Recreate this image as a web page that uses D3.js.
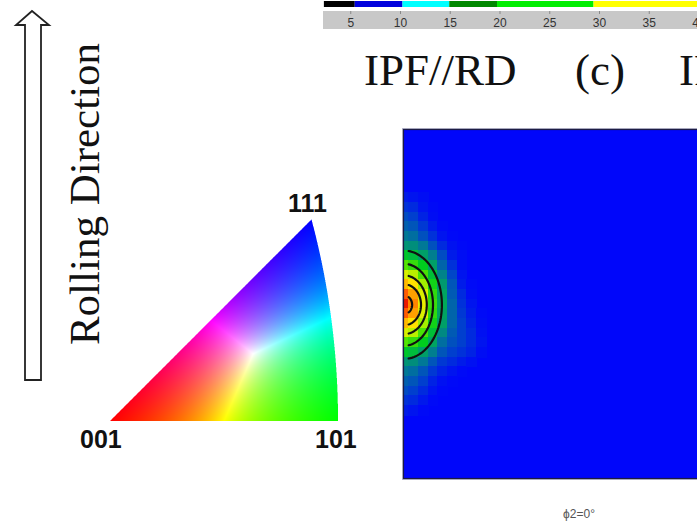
<!DOCTYPE html>
<html><head><meta charset="utf-8">
<script src="https://cdn.jsdelivr.net/npm/d3@7"></script>
<style>body{margin:0;background:#fff}svg{display:block}</style>
</head><body><svg id="c" width="697" height="531"></svg>
<script>
// ---------- data ----------
const colorbarTicks = [5, 10, 15, 20, 25, 30, 35, 40];
const colorbarBins = [2.3, 5.4, 10.2, 14.9, 19.7, 29.4, 45];
const colorbarColors = ["#000000", "#0000dd", "#00ffff", "#008800", "#00ee00", "#ffff00"];

const titles = ["IPF//RD", "(c)", "IPF//RD"];
const sideLabel = "Rolling Direction";
const ipfLabels = ["001", "101", "111"];
const sectionLabel = "\u03d52=0\u00b0";

// ODF phi2=0 section, grid 2.5 deg (phi1 across, PHI down); cells outside = base
const odfPhi1 = [0, 2.5, 5, 7.5, 10, 12.5, 15, 17.5, 20];
const odfPHI = [17.5, 20, 22.5, 25, 27.5, 30, 32.5, 35, 37.5, 40, 42.5, 45, 47.5, 50, 52.5, 55, 57.5, 60, 62.5, 65, 67.5, 70, 72.5];
const odfValues = [
  [0.3, 0.25, 0.2, 0.15, 0.15, 0.15, 0.15, 0.15, 0.15],
  [0.45, 0.4, 0.25, 0.18, 0.15, 0.15, 0.15, 0.15, 0.15],
  [0.65, 0.55, 0.35, 0.2, 0.15, 0.15, 0.15, 0.15, 0.15],
  [0.85, 0.75, 0.5, 0.3, 0.18, 0.15, 0.15, 0.15, 0.15],
  [1.1, 1.0, 0.7, 0.45, 0.25, 0.17, 0.15, 0.15, 0.15],
  [1.6, 1.5, 1.1, 0.7, 0.4, 0.23, 0.17, 0.15, 0.15],
  [2.8, 2.5, 1.8, 1.2, 0.65, 0.3, 0.2, 0.15, 0.15],
  [4.4, 3.9, 3.0, 1.8, 0.9, 0.45, 0.2, 0.15, 0.15],
  [6.4, 5.8, 4.2, 2.6, 1.3, 0.6, 0.25, 0.15, 0.15],
  [8.5, 7.7, 5.5, 3.3, 1.7, 0.75, 0.3, 0.18, 0.15],
  [10.3, 9.0, 6.5, 3.8, 1.9, 0.8, 0.4, 0.2, 0.15],
  [12.5, 9.5, 6.9, 4.0, 2.0, 0.9, 0.45, 0.25, 0.15],
  [10.3, 9.0, 6.5, 3.8, 1.9, 0.9, 0.5, 0.3, 0.18],
  [8.5, 7.7, 5.5, 3.3, 1.8, 0.9, 0.55, 0.35, 0.2],
  [6.4, 5.8, 4.2, 2.6, 1.4, 0.8, 0.55, 0.4, 0.22],
  [4.4, 3.9, 3.0, 1.9, 1.0, 0.7, 0.55, 0.4, 0.25],
  [2.8, 2.5, 1.8, 1.2, 0.75, 0.55, 0.45, 0.35, 0.2],
  [1.6, 1.5, 1.1, 0.75, 0.5, 0.4, 0.3, 0.22, 0.15],
  [1.1, 1.0, 0.75, 0.5, 0.35, 0.25, 0.18, 0.15, 0.15],
  [0.85, 0.75, 0.55, 0.35, 0.22, 0.17, 0.15, 0.15, 0.15],
  [0.65, 0.55, 0.4, 0.25, 0.17, 0.15, 0.15, 0.15, 0.15],
  [0.45, 0.4, 0.28, 0.18, 0.15, 0.15, 0.15, 0.15, 0.15],
  [0.3, 0.25, 0.18, 0.15, 0.15, 0.15, 0.15, 0.15, 0.15]
];
const odfBase = 0.15;
const odfColorStops = [0.15, 0.6, 1.1, 2, 3, 4.5, 6, 7.5, 9, 10.5, 12];
const odfColors = ["rgb(0,6,250)", "rgb(0,70,200)", "rgb(0,120,150)", "rgb(0,170,90)", "rgb(0,205,30)",
  "rgb(90,230,0)", "rgb(200,240,0)", "rgb(255,235,0)", "rgb(255,160,0)", "rgb(255,80,0)", "rgb(235,25,0)"];

// contour lines (semi-axes in degrees, around peak at phi1=0, PHI=45.2)
const contourLevels = [2, 4, 6, 8, 10];
const contourRx = [9.8, 7.5, 5.9, 4.4, 2.1];
const contourRy = [14.0, 10.6, 7.6, 5.3, 2.4];
const contourCenter = [0, 45.2];

// ---------- drawing ----------
const svg = d3.select("#c");
const serif = "'Liberation Serif','Times New Roman',serif";
const sans = "'Liberation Sans',Arial,sans-serif";

// colour bar at top
const cbx = d3.scaleLinear().domain([0, 40]).range([301, 699]);
svg.append("rect").attr("x", 323).attr("y", 11).attr("width", 380).attr("height", 18).attr("fill", "#c8c8c8");
svg.selectAll(".cb").data(colorbarColors).join("rect")
  .attr("x", (d, i) => cbx(colorbarBins[i]))
  .attr("width", (d, i) => cbx(colorbarBins[i + 1]) - cbx(colorbarBins[i]))
  .attr("y", 1).attr("height", 6).attr("fill", d => d);
svg.selectAll(".cbt").data(colorbarTicks).join("line")
  .attr("x1", d => cbx(d)).attr("x2", d => cbx(d)).attr("y1", 11).attr("y2", 14)
  .attr("stroke", "#888").attr("stroke-width", 1);
svg.selectAll(".cbl").data(colorbarTicks).join("text")
  .attr("x", d => cbx(d)).attr("y", 27).attr("text-anchor", "middle")
  .attr("font-family", sans).attr("font-size", 12).attr("fill", "#333").text(d => d);

// titles
const titleX = [364, 575, 679];
svg.selectAll(".title").data(titles).join("text")
  .attr("x", (d, i) => titleX[i]).attr("y", 85)
  .attr("font-family", serif).attr("font-size", 45).attr("fill", "#111").text(d => d);

// rolling direction arrow + label
const arrow = d3.path();
arrow.moveTo(25, 380); arrow.lineTo(41, 380); arrow.lineTo(41, 25); arrow.lineTo(49, 25);
arrow.lineTo(32, 11); arrow.lineTo(16, 25); arrow.lineTo(25, 25); arrow.closePath();
svg.append("path").attr("d", arrow.toString()).attr("fill", "#fff").attr("stroke", "#222").attr("stroke-width", 1.8);
svg.append("text").attr("transform", "translate(99,194) rotate(-90)").attr("text-anchor", "middle")
  .attr("font-family", serif).attr("font-size", 43).attr("fill", "#111").text(sideLabel);

// IPF colour key (stereographic triangle)
const ipfScale = 550.5, ox = 110, oy = 421;
const sx = d3.scaleLinear().domain([0, 1]).range([ox, ox + ipfScale]);
const sy = d3.scaleLinear().domain([0, 1]).range([oy, oy - ipfScale]);
const B = [Math.SQRT2 - 1, 0], C = [(Math.sqrt(3) - 1) / 2, (Math.sqrt(3) - 1) / 2];
const bx0 = 100, by0 = 205, bw = 250, bh = 225;
const cv = document.createElement("canvas"); cv.width = bw; cv.height = bh;
const ctx = cv.getContext("2d"); const img = ctx.createImageData(bw, bh);
const ss = 3;
for (let py = 0; py < bh; py++) for (let px = 0; px < bw; px++) {
  let rs = 0, gs = 0, bs = 0, cov = 0;
  for (let a = 0; a < ss; a++) for (let b = 0; b < ss; b++) {
    const X = sx.invert(bx0 + px + (a + 0.5) / ss), Y = sy.invert(by0 + py + (b + 0.5) / ss);
    if (Y < 0 || Y > X || (X + 1) * (X + 1) + Y * Y > 2) continue;
    let wc = Y / C[1], wb = (X - Y) / B[0], wa = 1 - wb - wc;
    wa = Math.max(0, wa); wb = Math.max(0, wb); wc = Math.max(0, wc);
    const m = Math.max(wa, wb, wc) || 1;
    rs += wa / m; gs += wb / m; bs += wc / m; cov++;
  }
  const k = (py * bw + px) * 4;
  if (cov) { img.data[k] = 255 * rs / cov; img.data[k + 1] = 255 * gs / cov; img.data[k + 2] = 255 * bs / cov; }
  img.data[k + 3] = 255 * cov / (ss * ss);
}
ctx.putImageData(img, 0, 0);
svg.append("image").attr("x", bx0).attr("y", by0).attr("width", bw).attr("height", bh)
  .attr("href", cv.toDataURL());
const ipfLabelPos = [[80, 448], [315, 448], [288, 212]];
svg.selectAll(".ipfl").data(ipfLabels).join("text")
  .attr("x", (d, i) => ipfLabelPos[i][0]).attr("y", (d, i) => ipfLabelPos[i][1])
  .attr("font-family", sans).attr("font-weight", "bold").attr("font-size", 25).attr("fill", "#111").text(d => d);

// ODF section panel
const px0 = 404, py0 = 130, side = 348;
const xS = d3.scaleLinear().domain([0, 90]).range([px0, px0 + side]);
const yS = d3.scaleLinear().domain([0, 90]).range([py0, py0 + side]);
const col = d3.scaleLinear().domain(odfColorStops).range(odfColors).clamp(true);
svg.append("clipPath").attr("id", "odfclip").append("rect")
  .attr("x", px0).attr("y", py0).attr("width", side).attr("height", side);
svg.append("rect").attr("x", px0).attr("y", py0).attr("width", side).attr("height", side).attr("fill", col(odfBase));
const clipG = svg.append("g").attr("clip-path", "url(#odfclip)");
const cellsG = clipG.append("g").attr("shape-rendering", "crispEdges");
const grid = d3.range(0, 90.01, 2.5);
const cells = [];
grid.forEach(p1 => grid.forEach(P => {
  const i = odfPHI.indexOf(P), j = odfPhi1.indexOf(p1);
  cells.push({ p1, P, v: (i >= 0 && j >= 0) ? odfValues[i][j] : odfBase });
}));
const half = 1.25;
cellsG.selectAll("rect").data(cells.filter(d => d.v !== odfBase)).join("rect")
  .attr("x", d => Math.floor(xS(d.p1 - half))).attr("y", d => Math.floor(yS(d.P - half)))
  .attr("width", d => Math.floor(xS(d.p1 + half)) - Math.floor(xS(d.p1 - half)) + 1)
  .attr("height", d => Math.floor(yS(d.P + half)) - Math.floor(yS(d.P - half)) + 1)
  .attr("fill", d => col(d.v));

// contours
const line = d3.line().x(d => xS(d[0])).y(d => yS(d[1]));
contourLevels.forEach((lv, k) => {
  const rx = contourRx[k], ry = contourRy[k];
  const tmax = Math.acos(Math.min(1, 1.2 / rx));
  const pts = d3.range(-tmax, tmax + 1e-9, tmax / 30).map(t => [contourCenter[0] + rx * Math.cos(t), contourCenter[1] + ry * Math.sin(t)]);
  clipG.append("path").attr("d", line(pts)).attr("fill", "none").attr("stroke", "#111")
    .attr("stroke-width", 2.2).attr("stroke-linecap", "round");
});

svg.append("rect").attr("x", px0 - 1.5).attr("y", py0 - 1.5).attr("width", side + 3).attr("height", side + 3)
  .attr("fill", "none").attr("stroke", "#b8b8cc").attr("stroke-width", 1);
svg.append("rect").attr("x", px0 - 0.5).attr("y", py0 - 0.5).attr("width", side + 1).attr("height", side + 1)
  .attr("fill", "none").attr("stroke", "#1c1c44").attr("stroke-width", 1.2);

svg.append("text").attr("x", 579).attr("y", 518).attr("text-anchor", "middle")
  .attr("font-family", sans).attr("font-size", 12).attr("fill", "#555").text(sectionLabel);
</script></body></html>
